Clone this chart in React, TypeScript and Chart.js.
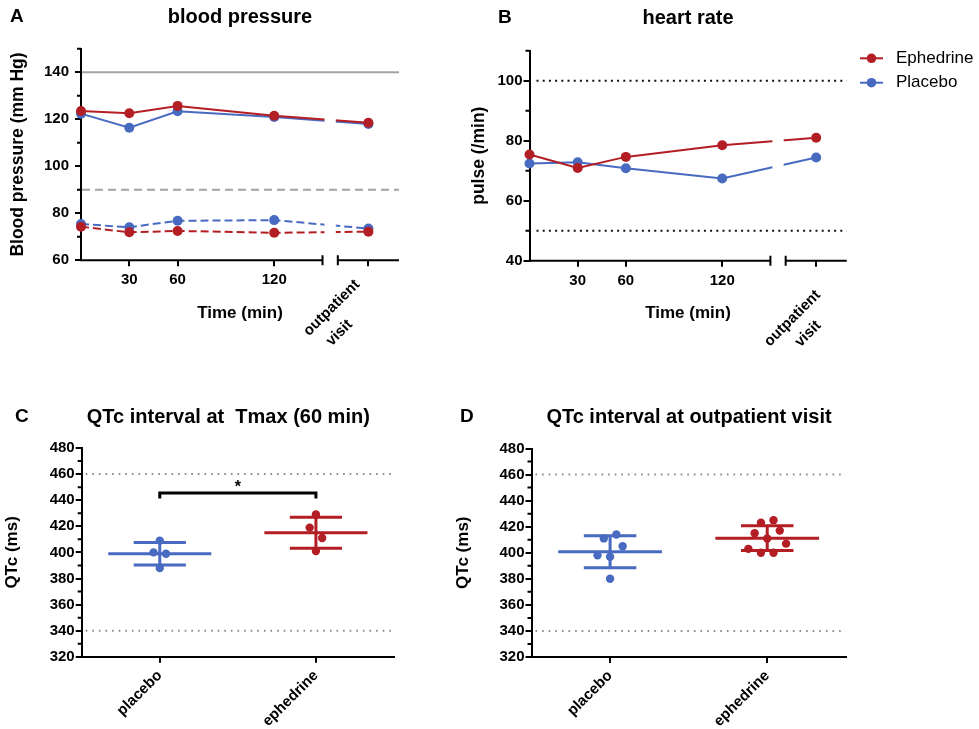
import React, { useEffect, useRef } from 'react';
import { Chart, registerables } from 'chart.js';

Chart.register(...registerables);

const FONT = '"Liberation Sans", Arial, Helvetica, sans-serif';
const RED = '#B31E24';
const BLUE = '#486AC1';
const PAGE_W = 979;
const PAGE_H = 729;

// ---------------- data: panels A & B (time course) ----------------
const timeTickLabels = [30, 60, 120];
const outpatientLabel = ['outpatient', 'visit'];
// position of the outpatient visit on the broken time axis (break spans 150 - 159.5)
const OUTPATIENT_X = 178.5;
const BREAK_START = 150;
const BREAK_END = 159.5;
const TIME_MAX = 197.5;
const times = [0, 30, 60, 120, OUTPATIENT_X];

const sysEphedrine = [123.5, 122.6, 125.7, 121.5, 118.5];
const sysPlacebo = [122.4, 116.4, 123.4, 121.0, 118.0];
const diaEphedrine = [74.3, 71.9, 72.5, 71.7, 72.2];
const diaPlacebo = [75.4, 74.1, 76.8, 77.1, 73.5];

const hrEphedrine = [75.4, 70.9, 74.6, 78.5, 81.0];
const hrPlacebo = [72.4, 72.8, 70.8, 67.4, 74.4];

const bpTicks = [60, 80, 100, 120, 140];
const bpMinorTicks = [70, 90, 110, 130, 150];
const hrTicks = [40, 60, 80, 100];
const hrMinorTicks = [50, 70, 90, 110];

// ---------------- data: panels C & D (QTc) ----------------
const groupLabels = ['placebo', 'ephedrine'];
const qtcTicks = [320, 340, 360, 380, 400, 420, 440, 460, 480];
const qtcMinorTicks = [330, 350, 370, 390, 410, 430, 450, 470];
const qtcRefs = [460, 340];

const qtcTmaxPlacebo = [409, 400, 399, 388];
const qtcTmaxEphedrine = [429, 419, 411, 401];
const qtcVisitPlacebo = [414, 411, 405, 398, 397, 380];
const qtcVisitEphedrine = [425, 423, 417, 415, 411, 407, 403, 400, 400];
// beeswarm columns of each point
const swarmTmaxPlacebo = [0, -1, 1, 0];
const swarmTmaxEphedrine = [0, -1, 1, 0];
const swarmVisitPlacebo = [1, -1, 2, -2, 0, 0];
const swarmVisitEphedrine = [1, -1, 2, -2, 0, 3, -3, -1, 1];

const SWARM_STEP = 0.04;
const MEAN_HALF = 0.33;
const SD_HALF = 0.167;

type TextItem = { text: string; x: number; y: number; font: string; align?: CanvasTextAlign; rot?: number };

function drawTexts(ctx: CanvasRenderingContext2D, items: TextItem[]) {
  items.forEach((t) => {
    ctx.save();
    ctx.font = t.font;
    ctx.fillStyle = '#000';
    ctx.textAlign = t.align || 'center';
    ctx.textBaseline = 'middle';
    ctx.translate(t.x, t.y);
    if (t.rot) ctx.rotate(t.rot);
    ctx.fillText(t.text, 0, 0);
    ctx.restore();
  });
}

function drawMinor(chart: any, minors: number[]) {
  const { ctx, chartArea: ca, scales } = chart;
  ctx.save();
  ctx.strokeStyle = '#000';
  ctx.lineWidth = 2;
  ctx.beginPath();
  minors.forEach((v) => {
    const py = scales.y.getPixelForValue(v);
    ctx.moveTo(ca.left - 4, py);
    ctx.lineTo(ca.left, py);
  });
  ctx.stroke();
  ctx.restore();
}

const bold = (px: number) => `bold ${px}px ${FONT}`;

function yScale(min: number, max: number, ticks: number[], pad: number) {
  return {
    type: 'linear',
    min,
    max,
    afterBuildTicks: (s: any) => {
      s.ticks = ticks.map((v) => ({ value: v }));
    },
    afterFit: (s: any) => {
      s.width = 40;
    },
    ticks: { font: { family: FONT, size: 15, weight: 'bold' }, color: '#000', padding: pad },
    grid: { drawOnChartArea: false, drawTicks: true, tickLength: 6, color: '#000', lineWidth: 2 },
    border: { display: true, color: '#000', width: 2 },
  };
}

type Ref = { value: number; color: string; width: number; dash: number[]; start: number };

function makeTimeChart(
  canvas: HTMLCanvasElement,
  cfg: {
    area: { l: number; r: number; t: number; b: number };
    yMin: number;
    yMax: number;
    yTicks: number[];
    yMinor: number[];
    yPad: number;
    datasets: any[];
    refs: Ref[];
    texts: TextItem[];
    outAnchor: { dx: number; dy: number; align: 'left' | 'center'; shift: number; lh: number };
    legend?: { x: number; y: number[] };
  }
) {
  const X_H = 30;
  const decor = {
    id: 'timeDecor',
    afterDatasetsDraw(chart: any) {
      const { ctx, chartArea: ca, scales } = chart;
      const x = scales.x;
      const y = scales.y;
      const b0 = x.getPixelForValue(BREAK_START);
      const b1 = x.getPixelForValue(BREAK_END);
      ctx.save();
      ctx.fillStyle = '#fff';
      ctx.fillRect(b0 + 2, ca.top - 12, b1 - b0 - 4, ca.bottom - ca.top + 12);
      cfg.refs.forEach((r) => {
        const py = y.getPixelForValue(r.value);
        ctx.beginPath();
        ctx.strokeStyle = r.color;
        ctx.lineWidth = r.width;
        ctx.setLineDash(r.dash);
        ctx.moveTo(ca.left + r.start, py);
        ctx.lineTo(ca.right, py);
        ctx.stroke();
      });
      ctx.setLineDash([]);
      ctx.strokeStyle = '#000';
      ctx.lineWidth = 2;
      const ay = ca.bottom;
      ctx.beginPath();
      ctx.moveTo(ca.left - 1, ay);
      ctx.lineTo(b0, ay);
      ctx.moveTo(b1, ay);
      ctx.lineTo(ca.right, ay);
      ctx.moveTo(b0, ay - 5);
      ctx.lineTo(b0, ay + 5);
      ctx.moveTo(b1, ay - 5);
      ctx.lineTo(b1, ay + 5);
      ctx.stroke();
      ctx.restore();
    },
    afterDraw(chart: any) {
      const { ctx, chartArea: ca, scales } = chart;
      drawMinor(chart, cfg.yMinor);
      drawTexts(ctx, cfg.texts);
      // rotated outpatient label
      const oa = cfg.outAnchor;
      const tx = scales.x.getPixelForValue(OUTPATIENT_X);
      ctx.save();
      ctx.font = bold(15);
      ctx.fillStyle = '#000';
      ctx.textBaseline = 'middle';
      ctx.translate(tx + oa.dx, ca.bottom + oa.dy);
      ctx.rotate(-Math.PI / 4);
      const w = Math.max(...outpatientLabel.map((l) => ctx.measureText(l).width));
      ctx.textAlign = oa.align;
      outpatientLabel.forEach((l, i) =>
        ctx.fillText(l, (oa.align === 'left' ? -w : -w / 2) + i * oa.shift, i * oa.lh)
      );
      ctx.restore();
      // legend
      if (cfg.legend) {
        const lg = cfg.legend;
        const items = [chart.data.datasets[0], chart.data.datasets[1]];
        items.forEach((ds: any, i: number) => {
          const ly = lg.y[i];
          ctx.save();
          ctx.strokeStyle = ds.borderColor;
          ctx.fillStyle = ds.borderColor;
          ctx.lineWidth = 2;
          ctx.beginPath();
          ctx.moveTo(lg.x, ly);
          ctx.lineTo(lg.x + 23, ly);
          ctx.stroke();
          ctx.beginPath();
          ctx.arc(lg.x + 11.5, ly, 4.8, 0, Math.PI * 2);
          ctx.fill();
          ctx.fillStyle = '#000';
          ctx.font = `17px ${FONT}`;
          ctx.textAlign = 'left';
          ctx.textBaseline = 'middle';
          ctx.fillText(ds.label, lg.x + 36, ly);
          ctx.restore();
        });
      }
    },
  };
  const a = cfg.area;
  return new Chart(canvas, {
    type: 'line',
    data: { datasets: cfg.datasets },
    options: {
      responsive: false,
      animation: false,
      events: [],
      layout: { padding: { left: a.l - 40, right: PAGE_W - a.r, top: a.t, bottom: PAGE_H - a.b - X_H } },
      plugins: { legend: { display: false }, tooltip: { enabled: false }, title: { display: false } },
      scales: {
        x: {
          type: 'linear',
          min: 0,
          max: TIME_MAX,
          afterBuildTicks: (s: any) => {
            s.ticks = [...timeTickLabels, OUTPATIENT_X].map((v) => ({ value: v }));
          },
          afterFit: (s: any) => {
            s.height = X_H;
          },
          ticks: {
            font: { family: FONT, size: 15, weight: 'bold' },
            color: '#000',
            padding: 5,
            autoSkip: false,
            maxRotation: 0,
            minRotation: 0,
            callback: (v: any) => (timeTickLabels.includes(v) ? String(v) : ''),
          },
          grid: { drawOnChartArea: false, drawTicks: true, tickLength: 6, color: '#000', lineWidth: 2 },
          border: { display: false },
        },
        y: yScale(cfg.yMin, cfg.yMax, cfg.yTicks, cfg.yPad),
      },
    } as any,
    plugins: [decor],
  });
}

function lineDs(label: string, values: number[], color: string, dashed: boolean, order: number) {
  return {
    label,
    data: times.map((t, i) => ({ x: t, y: values[i] })),
    borderColor: color,
    backgroundColor: color,
    borderWidth: 2,
    borderDash: dashed ? [8, 4] : [],
    pointRadius: 5,
    pointBorderWidth: 0,
    pointBackgroundColor: color,
    clip: false,
    order,
  };
}

const mean = (v: number[]) => v.reduce((s, x) => s + x, 0) / v.length;
const sd = (v: number[]) => {
  const m = mean(v);
  return Math.sqrt(v.reduce((s, x) => s + (x - m) * (x - m), 0) / (v.length - 1));
};

function makeQtcChart(
  canvas: HTMLCanvasElement,
  cfg: {
    area: { l: number; r: number; t: number; b: number };
    groups: number[][];
    swarms: number[][];
    texts: TextItem[];
    bracket?: { y: number; drop: number };
  }
) {
  const X_H = PAGE_H - cfg.area.b;
  const colors = [BLUE, RED];
  const datasets: any[] = [];
  cfg.groups.forEach((vals, gi) => {
    const cx = gi + 1;
    const m = mean(vals);
    const s = sd(vals);
    const color = colors[gi];
    datasets.push({
      label: groupLabels[gi],
      data: vals.map((v, i) => ({ x: cx + cfg.swarms[gi][i] * SWARM_STEP, y: v })),
      showLine: false,
      pointRadius: 4.2,
      pointBorderWidth: 0,
      pointBackgroundColor: color,
      borderColor: color,
      backgroundColor: color,
      clip: false,
      order: 0,
    });
    const seg = (pts: { x: number; y: number }[]) => ({
      data: pts,
      showLine: true,
      borderColor: color,
      borderWidth: 3,
      pointRadius: 0,
      clip: false,
      order: 1,
    });
    datasets.push(seg([{ x: cx - MEAN_HALF, y: m }, { x: cx + MEAN_HALF, y: m }]));
    datasets.push(seg([{ x: cx - SD_HALF, y: m + s }, { x: cx + SD_HALF, y: m + s }]));
    datasets.push(seg([{ x: cx - SD_HALF, y: m - s }, { x: cx + SD_HALF, y: m - s }]));
    datasets.push(seg([{ x: cx, y: m - s }, { x: cx, y: m + s }]));
  });
  const decor = {
    id: 'qtcDecor',
    beforeDatasetsDraw(chart: any) {
      const { ctx, chartArea: ca, scales } = chart;
      ctx.save();
      ctx.strokeStyle = '#8a8a8a';
      ctx.lineWidth = 2;
      ctx.setLineDash([1.6, 5]);
      qtcRefs.forEach((v) => {
        const py = scales.y.getPixelForValue(v);
        ctx.beginPath();
        ctx.moveTo(ca.left + 4, py);
        ctx.lineTo(ca.right, py);
        ctx.stroke();
      });
      ctx.restore();
    },
    afterDatasetsDraw(chart: any) {
      if (!cfg.bracket) return;
      const { ctx, scales } = chart;
      const x1 = scales.x.getPixelForValue(1);
      const x2 = scales.x.getPixelForValue(2);
      const yb = scales.y.getPixelForValue(cfg.bracket.y);
      const yd = scales.y.getPixelForValue(cfg.bracket.drop);
      ctx.save();
      ctx.strokeStyle = '#000';
      ctx.lineWidth = 3;
      ctx.lineJoin = 'miter';
      ctx.beginPath();
      ctx.moveTo(x1, yd);
      ctx.lineTo(x1, yb);
      ctx.lineTo(x2, yb);
      ctx.lineTo(x2, yd);
      ctx.stroke();
      ctx.fillStyle = '#000';
      ctx.font = bold(16);
      ctx.textAlign = 'center';
      ctx.textBaseline = 'alphabetic';
      ctx.fillText('*', (x1 + x2) / 2, yb - 1);
      ctx.restore();
    },
    afterDraw(chart: any) {
      drawMinor(chart, qtcMinorTicks);
      drawTexts(chart.ctx, cfg.texts);
    },
  };
  const a = cfg.area;
  return new Chart(canvas, {
    type: 'line',
    data: { datasets },
    options: {
      responsive: false,
      animation: false,
      events: [],
      layout: { padding: { left: a.l - 40, right: PAGE_W - a.r, top: a.t, bottom: 0 } },
      plugins: { legend: { display: false }, tooltip: { enabled: false }, title: { display: false } },
      scales: {
        x: {
          type: 'linear',
          min: 0.5,
          max: 2.5,
          afterBuildTicks: (s: any) => {
            s.ticks = groupLabels.map((_, i) => ({ value: i + 1 }));
          },
          afterFit: (s: any) => {
            s.height = X_H;
          },
          ticks: {
            font: { family: FONT, size: 15, weight: 'bold' },
            color: '#000',
            padding: 4,
            autoSkip: false,
            maxRotation: 45,
            minRotation: 45,
            callback: (v: any) => groupLabels[Math.round(v) - 1] || '',
          },
          grid: { drawOnChartArea: false, drawTicks: true, tickLength: 6, color: '#000', lineWidth: 2 },
          border: { display: true, color: '#000', width: 2 },
        },
        y: yScale(320, 480, qtcTicks, 1),
      },
    } as any,
    plugins: [decor],
  });
}

export default function App() {
  const refA = useRef<HTMLCanvasElement>(null);
  const refB = useRef<HTMLCanvasElement>(null);
  const refC = useRef<HTMLCanvasElement>(null);
  const refD = useRef<HTMLCanvasElement>(null);

  useEffect(() => {
    const charts: Chart[] = [];
    charts.push(
      makeTimeChart(refA.current!, {
        area: { l: 81, r: 399, t: 48.8, b: 260.3 },
        yMin: 60,
        yMax: 150,
        yTicks: bpTicks,
        yMinor: bpMinorTicks,
        yPad: 6,
        datasets: [
          lineDs('Ephedrine', sysEphedrine, RED, false, 0),
          lineDs('Ephedrine diastolic', diaEphedrine, RED, true, 1),
          lineDs('Placebo', sysPlacebo, BLUE, false, 2),
          lineDs('Placebo diastolic', diaPlacebo, BLUE, true, 3),
        ],
        refs: [
          { value: 140, color: '#a3a3a3', width: 2, dash: [], start: 1 },
          { value: 90, color: '#a3a3a3', width: 2, dash: [8, 5], start: 1 },
        ],
        texts: [
          { text: 'A', x: 10, y: 17, font: bold(19), align: 'left' },
          { text: 'blood pressure', x: 240, y: 17, font: bold(20) },
          { text: 'Blood pressure (mm Hg)', x: 18.5, y: 154.5, font: bold(17.5), rot: -Math.PI / 2 },
          { text: 'Time (min)', x: 240, y: 313, font: bold(17) },
        ],
        outAnchor: { dx: -11, dy: 22, align: 'left', shift: 9, lh: 23 },
      })
    );
    charts.push(
      makeTimeChart(refB.current!, {
        area: { l: 529.5, r: 846.7, t: 50.7, b: 260.7 },
        yMin: 40,
        yMax: 110,
        yTicks: hrTicks,
        yMinor: hrMinorTicks,
        yPad: 1,
        datasets: [lineDs('Ephedrine', hrEphedrine, RED, false, 0), lineDs('Placebo', hrPlacebo, BLUE, false, 1)],
        refs: [
          { value: 100, color: '#111', width: 2, dash: [2, 4.2], start: 7 },
          { value: 50, color: '#111', width: 2, dash: [2, 4.2], start: 7 },
        ],
        texts: [
          { text: 'B', x: 498, y: 18, font: bold(19), align: 'left' },
          { text: 'heart rate', x: 688, y: 18, font: bold(20) },
          { text: 'pulse (/min)', x: 479.5, y: 155.7, font: bold(17.5), rot: -Math.PI / 2 },
          { text: 'Time (min)', x: 688, y: 313, font: bold(17) },
        ],
        outAnchor: { dx: 2, dy: 32, align: 'center', shift: 0, lh: 22 },
        legend: { x: 860, y: [58.3, 82.7] },
      })
    );
    charts.push(
      makeQtcChart(refC.current!, {
        area: { l: 81.7, r: 394, t: 448, b: 656.8 },
        groups: [qtcTmaxPlacebo, qtcTmaxEphedrine],
        swarms: [swarmTmaxPlacebo, swarmTmaxEphedrine],
        texts: [
          { text: 'C', x: 15, y: 417, font: bold(19), align: 'left' },
          { text: 'QTc interval at  Tmax (60 min)', x: 228.3, y: 417, font: bold(20) },
          { text: 'QTc (ms)', x: 12.5, y: 552.4, font: bold(17), rot: -Math.PI / 2 },
        ],
        bracket: { y: 445.5, drop: 441.3 },
      })
    );
    charts.push(
      makeQtcChart(refD.current!, {
        area: { l: 531.5, r: 845.8, t: 448.5, b: 657 },
        groups: [qtcVisitPlacebo, qtcVisitEphedrine],
        swarms: [swarmVisitPlacebo, swarmVisitEphedrine],
        texts: [
          { text: 'D', x: 460, y: 417, font: bold(19), align: 'left' },
          { text: 'QTc interval at outpatient visit', x: 689, y: 417, font: bold(20) },
          { text: 'QTc (ms)', x: 463.2, y: 552.7, font: bold(17), rot: -Math.PI / 2 },
        ],
      })
    );
    return () => charts.forEach((c) => c.destroy());
  }, []);

  const cs: React.CSSProperties = { position: 'absolute', left: 0, top: 0, width: PAGE_W, height: PAGE_H };
  return (
    <div style={{ position: 'absolute', left: 0, top: 0, width: PAGE_W, height: PAGE_H, background: '#fff' }}>
      <canvas ref={refA} width={PAGE_W} height={PAGE_H} style={cs} />
      <canvas ref={refB} width={PAGE_W} height={PAGE_H} style={cs} />
      <canvas ref={refC} width={PAGE_W} height={PAGE_H} style={cs} />
      <canvas ref={refD} width={PAGE_W} height={PAGE_H} style={cs} />
    </div>
  );
}
